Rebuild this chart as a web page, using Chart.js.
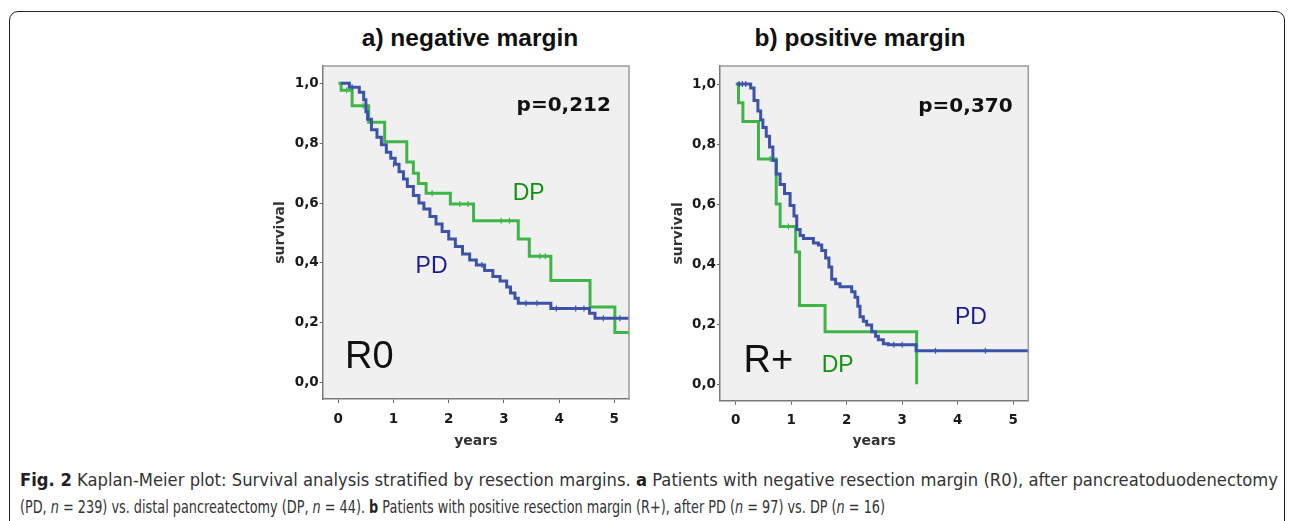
<!DOCTYPE html>
<html>
<head>
<meta charset="utf-8">
<script src="https://cdn.jsdelivr.net/npm/chart.js@4.4.1/dist/chart.umd.min.js"></script>
<style>
  html, body { margin: 0; padding: 0; background: #fff; }
  body { width: 1293px; height: 521px; position: relative; overflow: hidden; font-family: "Liberation Sans", Arial, sans-serif; }
  #frame { position: absolute; left: 9px; top: 11px; width: 1276px; height: 560px; border: 1.5px solid #222; border-radius: 9px; box-sizing: border-box; }
  .title { position: absolute; top: 24px; font-weight: bold; font-size: 24.5px; line-height: 28px; color: #111; transform: translateX(-50%); white-space: nowrap; }
  .wrap { position: absolute; top: 55px; width: 380px; height: 400px; }
  .cap { position: absolute; left: 20px; font-family: "DejaVu Sans", sans-serif; font-size: 17px; line-height: 20px; color: #333; white-space: nowrap; transform-origin: 0 0; }
  .cap b { color: #231f20; }
</style>
</head>
<body>
<div id="frame"></div>
<div class="title" style="left:470px">a) negative margin</div>
<div class="title" style="left:860px">b) positive margin</div>
<div class="wrap" style="left:260px"><canvas id="chartA"></canvas></div>
<div class="wrap" style="left:658px"><canvas id="chartB"></canvas></div>
<div class="cap" id="cap1" style="top:470px"><b>Fig. 2</b> Kaplan-Meier plot: Survival analysis stratified by resection margins. <b>a</b> Patients with negative resection margin (R0), after pancreatoduodenectomy</div>
<div class="cap" id="cap2" style="top:497px">(PD, <i>n</i> = 239) vs. distal pancreatectomy (DP, <i>n</i> = 44). <b>b</b> Patients with positive resection margin (R+), after PD (<i>n</i> = 97) vs. DP (<i>n</i> = 16)</div>

<script>
// Achsen
const years = [0, 1, 2, 3, 4, 5];
const survivalTicks = [0, 0.2, 0.4, 0.6, 0.8, 1.0];

// a) R0 – PD (blau)
const r0PdTime = [0.05, 0.10, 0.20, 0.38, 0.46, 0.50, 0.53, 0.60, 0.70, 0.78, 0.87, 0.95, 1.03, 1.10, 1.18, 1.25, 1.36, 1.46, 1.55, 1.66, 1.77, 1.88, 2.00, 2.12, 2.25, 2.38, 2.50, 2.65, 2.80, 2.93, 3.05, 3.12, 3.20, 3.26, 3.85, 4.55, 4.65, 5.27];
const r0PdSurv = [1.000, 1.000, 0.987, 0.970, 0.945, 0.905, 0.880, 0.845, 0.820, 0.795, 0.770, 0.750, 0.730, 0.705, 0.680, 0.655, 0.625, 0.600, 0.580, 0.555, 0.530, 0.505, 0.480, 0.455, 0.430, 0.410, 0.393, 0.375, 0.355, 0.340, 0.320, 0.300, 0.282, 0.265, 0.248, 0.232, 0.215, 0.215];
const r0PdCensTime = [0.25, 1.00, 2.60, 3.40, 3.60, 3.95, 4.30, 4.45, 4.80, 5.10];
const r0PdCensSurv = [0.987, 0.730, 0.393, 0.265, 0.265, 0.248, 0.248, 0.248, 0.215, 0.215];

// a) R0 – DP (grün)
const r0DpTime = [0, 0.05, 0.25, 0.55, 0.84, 1.24, 1.36, 1.45, 1.59, 2.03, 2.45, 3.26, 3.46, 3.85, 4.56, 5.01, 5.27];
const r0DpSurv = [1.0, 0.977, 0.925, 0.870, 0.805, 0.737, 0.700, 0.665, 0.633, 0.597, 0.541, 0.480, 0.422, 0.341, 0.253, 0.168, 0.168];
const r0DpCensTime = [0.15, 0.45, 1.70, 2.20, 2.35, 2.95, 3.10, 3.65, 3.75];
const r0DpCensSurv = [0.977, 0.925, 0.633, 0.597, 0.597, 0.541, 0.541, 0.422, 0.422];

// b) R+ – PD (blau)
const rpPdTime = [0.02, 0.22, 0.27, 0.33, 0.40, 0.45, 0.49, 0.55, 0.61, 0.67, 0.73, 0.80, 0.88, 0.98, 1.05, 1.10, 1.16, 1.22, 1.40, 1.49, 1.55, 1.62, 1.68, 1.73, 1.80, 1.88, 2.09, 2.15, 2.20, 2.24, 2.30, 2.36, 2.45, 2.52, 2.57, 2.66, 2.75, 3.25, 5.27];
const rpPdSurv = [1.0, 1.0, 0.987, 0.945, 0.910, 0.880, 0.855, 0.826, 0.790, 0.745, 0.700, 0.665, 0.635, 0.595, 0.560, 0.515, 0.495, 0.485, 0.470, 0.464, 0.445, 0.420, 0.390, 0.350, 0.335, 0.325, 0.308, 0.290, 0.260, 0.225, 0.210, 0.197, 0.175, 0.160, 0.148, 0.135, 0.131, 0.111, 0.111];
const rpPdCensTime = [0.06, 0.12, 0.18, 2.85, 3.00, 3.60, 4.50];
const rpPdCensSurv = [1.0, 1.0, 1.0, 0.131, 0.131, 0.111, 0.111];

// b) R+ – DP (grün)
const rpDpTime = [0, 0.05, 0.13, 0.41, 0.73, 0.80, 1.08, 1.15, 1.61, 3.26];
const rpDpSurv = [1.0, 0.9375, 0.875, 0.75, 0.60, 0.525, 0.44, 0.262, 0.175, 0.0];
const rpDpCensTime = [0.62, 0.95];
const rpDpCensSurv = [0.75, 0.525];

const BLUE = '#3d52a9';
const GREEN = '#3fb548';
const TXT_BOLD = '"DejaVu Sans", sans-serif';

function pts(t, s) { return t.map((v, i) => ({ x: v, y: s[i] })); }

const kmPlugin = {
    id: 'kmDeko',
    beforeDraw(chart) {
        const { ctx, chartArea: a } = chart;
        ctx.save();
        ctx.fillStyle = '#f0f0f0';
        ctx.fillRect(a.left, a.top, a.right - a.left, a.bottom - a.top);
        ctx.restore();
    },
    afterDraw(chart) {
        const { ctx, chartArea: a, scales } = chart;
        ctx.save();
        ctx.strokeStyle = '#9a9a9a';
        ctx.lineWidth = 1.5;
        ctx.beginPath();
        ctx.moveTo(a.left, a.top);
        ctx.lineTo(a.right, a.top);
        ctx.lineTo(a.right, a.bottom);
        ctx.stroke();
        ctx.textBaseline = 'alphabetic';
        ctx.textAlign = 'left';
        chart.options.plugins.kmDeko.labels.forEach(l => {
            ctx.font = l.font;
            ctx.fillStyle = l.color;
            ctx.fillText(l.text, scales.x.getPixelForValue(l.x), scales.y.getPixelForValue(l.y));
        });
        ctx.restore();
    }
};

function makeChart(id, d, lim, labels) {
    const line = (data, color) => ({
        type: 'line', data, borderColor: color, borderWidth: 3, pointRadius: 0,
        stepped: true, fill: false, tension: 0
    });
    const cens = (data, color) => ({
        type: 'line', data, showLine: false, pointStyle: 'line', rotation: 90,
        pointRadius: 3, borderColor: color, borderWidth: 1.2, pointBorderColor: color
    });
    return new Chart(document.getElementById(id), {
        type: 'line',
        data: {
            datasets: [
                line(d.pd, BLUE), cens(d.pdCens, BLUE),
                line(d.dp, GREEN), cens(d.dpCens, GREEN)
            ]
        },
        options: {
            responsive: true,
            maintainAspectRatio: false,
            animation: false,
            layout: { padding: { left: 0, right: lim.padRight, top: 11, bottom: 0 } },
            plugins: {
                legend: { display: false },
                tooltip: { enabled: false },
                kmDeko: { labels }
            },
            scales: {
                x: {
                    type: 'linear', min: lim.xMin, max: lim.xMax,
                    afterBuildTicks: s => { s.ticks = years.map(v => ({ value: v })); },
                    afterFit: s => { s.height = lim.xHeight; },
                    ticks: { font: { family: TXT_BOLD, size: 13.5, weight: 'bold' }, color: '#1a1a1a', padding: 8, maxRotation: 0 },
                    grid: { drawOnChartArea: false, drawTicks: true, tickLength: 4, color: '#666' },
                    border: { color: '#7a7a7a', width: 1.5 },
                    title: { display: true, text: 'years', color: '#333', padding: { top: 0, bottom: 5 },
                        font: { family: TXT_BOLD, size: 14, weight: 'bold' } }
                },
                y: {
                    type: 'linear', min: lim.yMin, max: lim.yMax,
                    afterBuildTicks: s => { s.ticks = survivalTicks.map(v => ({ value: v })); },
                    afterFit: s => { s.width = lim.yWidth; },
                    ticks: { font: { family: TXT_BOLD, size: 13.5, weight: 'bold' }, color: '#1a1a1a', padding: 1,
                        callback: v => v.toFixed(1).replace('.', ',') },
                    grid: { drawOnChartArea: false, drawTicks: true, tickLength: 3, color: '#666' },
                    border: { color: '#7a7a7a', width: 1.5 },
                    title: { display: true, text: 'survival', color: '#333', padding: { top: 12, bottom: 0 },
                        font: { family: TXT_BOLD, size: 14, weight: 'bold' } }
                }
            }
        },
        plugins: [kmPlugin]
    });
}

const bigBold = 'bold 20px ' + TXT_BOLD;
const mid = '23px "Liberation Sans", Arial, sans-serif';
const big = '38px "Liberation Sans", Arial, sans-serif';

makeChart('chartA', {
    pd: pts(r0PdTime, r0PdSurv), pdCens: pts(r0PdCensTime, r0PdCensSurv),
    dp: pts(r0DpTime, r0DpSurv), dpCens: pts(r0DpCensTime, r0DpCensSurv)
}, { xMin: -0.283, xMax: 5.266, yMin: -0.0544, yMax: 1.0578, yWidth: 62.7, xHeight: 56, padRight: 11 }, [
    { text: 'p=0,212', x: 3.23, y: 0.908, font: bigBold, color: '#111' },
    { text: 'DP', x: 3.16, y: 0.610, font: mid, color: '#129112' },
    { text: 'PD', x: 1.40, y: 0.365, font: mid, color: '#1b1b95' },
    { text: 'R0', x: 0.12, y: 0.048, font: big, color: '#111' }
]);

makeChart('chartB', {
    pd: pts(rpPdTime, rpPdSurv), pdCens: pts(rpPdCensTime, rpPdCensSurv),
    dp: pts(rpDpTime, rpDpSurv), dpCens: pts(rpDpCensTime, rpDpCensSurv)
}, { xMin: -0.283, xMax: 5.272, yMin: -0.055, yMax: 1.060, yWidth: 62, xHeight: 54.3, padRight: 9.7 }, [
    { text: 'p=0,370', x: 3.29, y: 0.908, font: bigBold, color: '#111' },
    { text: 'PD', x: 3.95, y: 0.200, font: mid, color: '#1b1b95' },
    { text: 'R+', x: 0.14, y: 0.042, font: big, color: '#111' },
    { text: 'DP', x: 1.55, y: 0.042, font: mid, color: '#129112' }
]);

// Bildunterschrift auf Breite bringen (Zeile 1 im Blocksatz)
const c1 = document.getElementById('cap1');
const c2 = document.getElementById('cap2');
c1.style.transform = 'scaleX(' + (1258 / c1.getBoundingClientRect().width) + ')';
c2.style.transform = 'scaleX(' + (865 / c2.getBoundingClientRect().width) + ')';
</script>
</body>
</html>
